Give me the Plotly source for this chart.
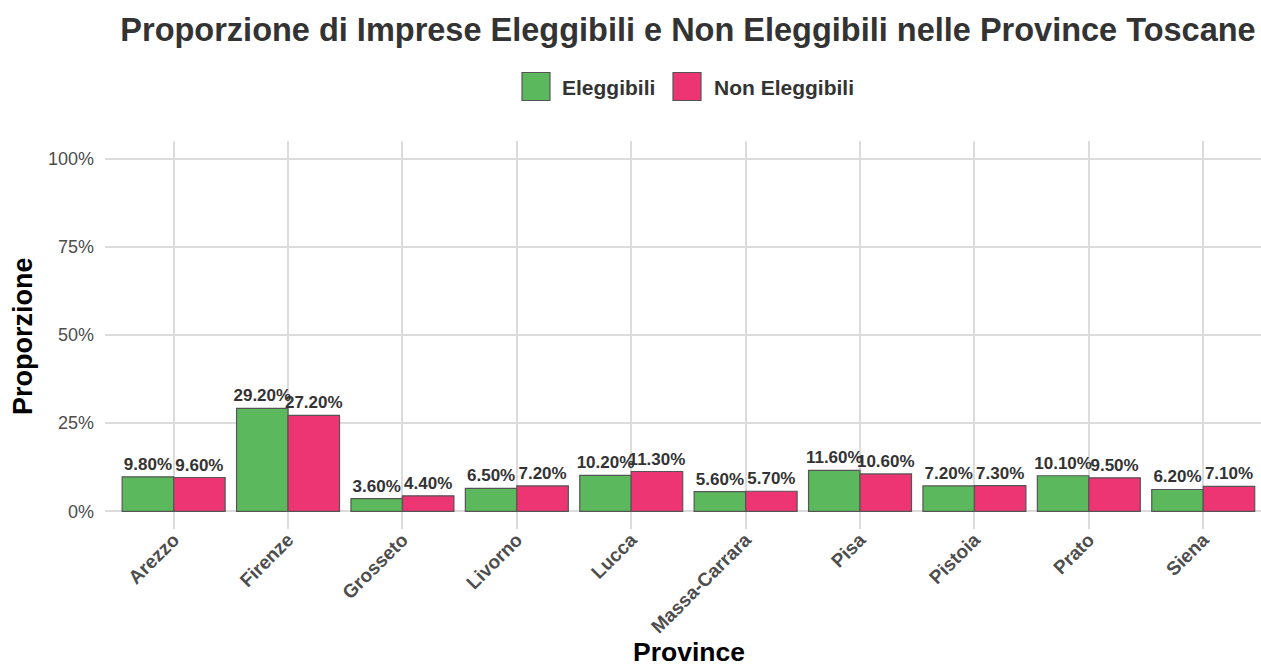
import plotly.graph_objects as go

province = ["Arezzo", "Firenze", "Grosseto", "Livorno", "Lucca", "Massa-Carrara",
            "Pisa", "Pistoia", "Prato", "Siena"]
eleggibili = [9.8, 29.2, 3.6, 6.5, 10.2, 5.6, 11.6, 7.2, 10.1, 6.2]
non_eleggibili = [9.6, 27.2, 4.4, 7.2, 11.3, 5.7, 10.6, 7.3, 9.5, 7.1]
series_names = ["Eleggibili", "Non Eleggibili"]
series_colors = ["#5cb85c", "#ec3572"]
y_ticks = [0, 25, 50, 75, 100]
y_tick_labels = ["0%", "25%", "50%", "75%", "100%"]

FONT = "Arial"

fig = go.Figure()
for name, vals, col in zip(series_names, [eleggibili, non_eleggibili], series_colors):
    fig.add_trace(go.Bar(
        x=province, y=vals, name=name,
        marker=dict(color=col, line=dict(color="#555555", width=1.2)),
        text=[f"<b>{v:.2f}%</b>" for v in vals],
        textposition="outside", constraintext="none", cliponaxis=False,
        textfont=dict(family=FONT, size=17, color="#333333"),
        showlegend=False,
    ))

# custom legend (large square keys like the reference)
legend_x = [[522, 550], [673, 701]]
legend_text_x = [560, 712]
shapes = []
annotations = []
W, H = 1261, 666
L, R, T, B = 105, 0, 141, 137
pw, ph = W - L - R, H - T - B
def px(x):
    return (x - L) / pw
def py(y):
    return (H - B - y) / ph
for (x0, x1), tx, name, col in zip(legend_x, legend_text_x, series_names, series_colors):
    shapes.append(dict(type="rect", xref="paper", yref="paper",
                       x0=px(x0), x1=px(x1), y0=py(100.5), y1=py(72.5),
                       fillcolor=col, line=dict(color="#555555", width=1.2)))
    annotations.append(dict(text=f"<b>{name}</b>", xref="paper", yref="paper",
                            x=px(tx), y=py(87), xanchor="left", yanchor="middle",
                            showarrow=False, font=dict(family=FONT, size=21, color="#333333")))
annotations.append(dict(text="<b>Province</b>", xref="paper", yref="paper",
                        x=px(689), y=py(652), xanchor="center", yanchor="middle",
                        showarrow=False, font=dict(family=FONT, size=26.5, color="#000000")))
annotations.append(dict(text="<b>Proporzione</b>", xref="paper", yref="paper",
                        x=px(23), y=py(336), xanchor="center", yanchor="middle", textangle=-90,
                        showarrow=False, font=dict(family=FONT, size=27, color="#000000")))

fig.update_layout(
    width=W, height=H,
    margin=dict(l=L, r=R, t=T, b=B, autoexpand=False),
    plot_bgcolor="white", paper_bgcolor="white",
    barmode="group", bargap=0.1, bargroupgap=0,
    title=dict(text="<b>Proporzione di Imprese Eleggibili e Non Eleggibili nelle Province Toscane</b>",
               x=688 / W, xanchor="center", y=1 - 30 / H, yanchor="middle",
               font=dict(family=FONT, size=32.5, color="#333333")),
    font=dict(family=FONT),
    shapes=shapes, annotations=annotations,
)
fig.update_xaxes(
    range=[-0.6, 9.505], showgrid=True, gridcolor="#dcdcdc", gridwidth=1.6,
    tickangle=-45, tickfont=dict(family=FONT, size=19, color="#4d4d4d"),
    tickprefix="<b>", ticksuffix="</b>", ticklabelstandoff=-5,
    showline=False, zeroline=False, ticks="", automargin=False,
)
fig.update_yaxes(
    range=[-5, 105], tickvals=y_ticks, ticktext=y_tick_labels,
    showgrid=True, gridcolor="#dcdcdc", gridwidth=1.6, zeroline=False,
    tickfont=dict(family=FONT, size=18, color="#4d4d4d"), ticklabelstandoff=10,
    automargin=False,
)
fig.write_html("out.html")
